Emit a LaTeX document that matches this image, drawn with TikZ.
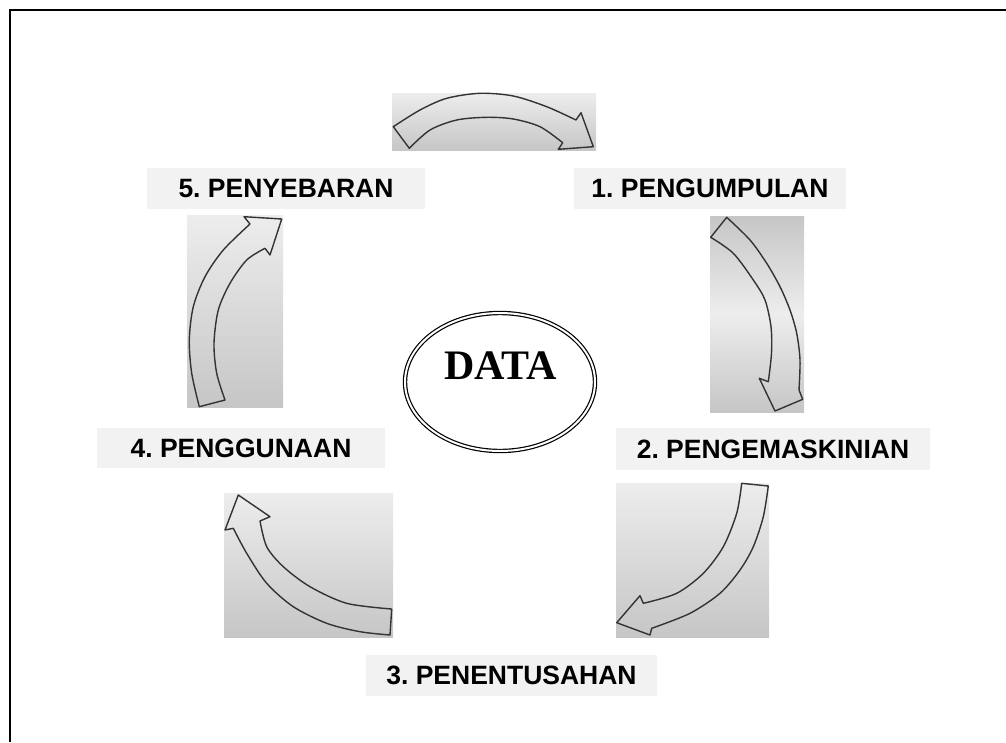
\documentclass[tikz,border=0pt]{standalone}
\usepackage{fontspec}
\setmainfont{Liberation Sans}
\newfontfamily\serifb{Liberation Serif}
\usetikzlibrary{shapes.geometric}
\definecolor{boxlt}{HTML}{EDEDED}
\definecolor{boxdk}{HTML}{C6C6C6}
\definecolor{lblbg}{HTML}{F2F2F2}
\definecolor{arrline}{HTML}{333333}
\frenchspacing
\begin{document}
\begin{tikzpicture}[x=1pt,y=-1pt,
  lbl/.style={fill=lblbg, inner sep=0pt, text=black,
    font=\bfseries\fontsize{26.5}{30}\selectfont},
  arr/.style={draw=arrline, line width=1.4pt, line join=round},
  grad/.style={top color=boxlt, bottom color=boxdk},
]
\useasboundingbox (0,0) rectangle (1006,742);
\draw[line width=2pt] (10,742) -- (10,10) -- (1006,10);

% gradient backgrounds of the arrows
\shade[grad] (392,93) rectangle (596,150);
\shade[top color=boxdk, bottom color=boxdk, middle color=boxlt] (710,216) rectangle (804,412);
\shade[grad] (616,483) rectangle (769,637);
\shade[grad] (224,493) rectangle (393,637);
\shade[grad] (187,215) rectangle (283,407);

% top arrow
\draw[arr] plot[smooth] coordinates {(393.3,126.7) (420,110) (446.7,98.3) (480,93.3) (513.3,96) (546.7,106.7) (576,120)}
  -- (581,112.7) -- (593.3,146.7) -- (558.3,149.3) -- (562.7,142.7)
  -- plot[smooth] coordinates {(562.7,142.7) (540,126.7) (513.3,119) (486.7,117.3) (456.7,120) (430,130) (409.3,148.3)}
  -- cycle;

% right arrow
\draw[arr] plot[smooth] coordinates {(726.7,217.3) (750,240) (766.7,263.3) (780,286.7) (790,310) (796.7,333.3) (800,360) (799,390)}
  -- (802.7,399.3) -- (775,411) -- (759.3,378.3) -- (768.3,381.7)
  -- plot[smooth] coordinates {(768.3,381.7) (771.5,353.3) (771,326.7) (765,300) (753.3,280) (733.3,253.3) (710.7,237.3)}
  -- cycle;

% bottom-right arrow
\draw[arr] plot[smooth] coordinates {(768.3,486) (763.3,516.7) (753.3,546.7) (740,570) (720,593.3) (690,613.3) (651.7,628.3)}
  -- (650,635) -- (616.7,622.7) -- (640,595.7) -- (643.3,603.3)
  -- plot[smooth] coordinates {(643.3,603.3) (676.7,593.3) (703.3,573.3) (723.3,546.7) (736.7,513.3) (741.7,483.3)}
  -- cycle;

% bottom-left arrow
\draw[arr] plot[smooth] coordinates {(390,635) (360,631.7) (326.7,623.3) (293.3,606.7) (266.7,583.3) (246.7,553.3) (233.3,528.3)}
  -- (225,530) -- (238.3,495) -- (270,516.7) -- (260,521)
  -- plot[smooth] coordinates {(260,521) (266.7,546.7) (283.3,566.7) (310,586.7) (346.7,603.3) (391.7,609)}
  -- cycle;

% left arrow
\draw[arr] plot[smooth] coordinates {(199.3,406.7) (191.7,373.3) (189.3,340) (193.3,306.7) (205,276.7) (223.3,250) (250,224)}
  -- (244,216.7) -- (281.7,219) -- (270,255) -- (265,248.3)
  -- plot[smooth] coordinates {(265,248.3) (246.7,260) (230,283.3) (218.3,310) (214,343.3) (216.7,373.3) (225,400)}
  -- cycle;

% labels
\node[lbl, minimum width=278, minimum height=41] (l5) at (286,188.5) {5. PENYEBARAN};
\node[lbl, minimum width=272, minimum height=41] (l1) at (710,188.5) {1. PENGUMPULAN};
\node[lbl, minimum width=314, minimum height=42] (l2) at (773,449) {2. PENGEMASKINIAN};
\node[lbl, minimum width=288, minimum height=40] (l4) at (241,448) {4. PENGGUNAAN};
\node[lbl, minimum width=291, minimum height=41] (l3) at (511.5,675.5) {3. PENENTUSAHAN};

% centre
\node[ellipse, draw=black, double, double distance=2pt, line width=1.2pt,
      minimum width=190, minimum height=138, inner sep=0pt] (data) at (500,382) {};
\node[font=\serifb\bfseries\fontsize{42}{44}\selectfont, inner sep=0pt] (datatext) at (500.5,366) {DATA};
\end{tikzpicture}
\end{document}
